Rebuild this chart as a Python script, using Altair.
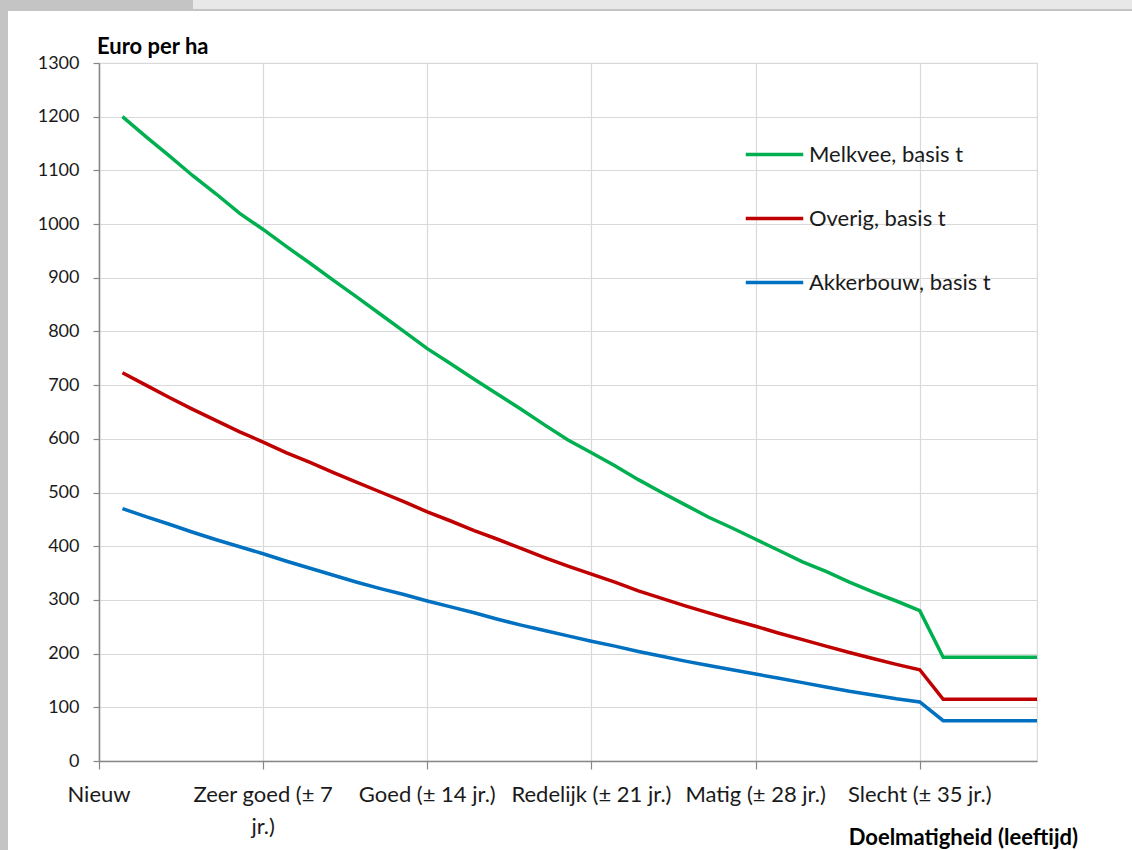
import altair as alt
import pandas as pd

years = list(range(1, 41))
melkvee = [1200, 1163, 1127, 1090, 1056, 1020, 990, 958, 927, 895,
           864, 832, 800, 768, 740, 711, 683, 655, 626, 598,
           574, 550, 524, 500, 477, 454, 434, 413, 392, 371,
           353, 333, 315, 298, 280, 193, 193, 193, 193, 193]
overig = [723, 700, 677, 655, 634, 613, 594, 574, 556, 537,
          519, 501, 483, 464, 447, 429, 413, 396, 379, 363,
          348, 333, 317, 303, 289, 276, 263, 251, 238, 226,
          214, 202, 191, 180, 170, 115, 115, 115, 115, 115]
akkerbouw = [470, 455, 441, 426, 412, 399, 386, 372, 359, 346,
             333, 321, 310, 298, 287, 276, 264, 253, 243, 233,
             223, 214, 204, 195, 186, 178, 170, 162, 154, 146,
             138, 130, 123, 116, 110, 75, 75, 75, 75, 75]
series_names = ["Melkvee, basis t", "Overig, basis t", "Akkerbouw, basis t"]
series_colors = ["#00B050", "#C00000", "#0070C0"]

tick_values = [0, 7, 14, 21, 28, 35]
tick_labels = ["Nieuw", "Zeer goed (± 7\njr.)", "Goed (± 14 jr.)",
               "Redelijk (± 21 jr.)", "Matig (± 28 jr.)", "Slecht (± 35 jr.)"]

FONT = "Lato"
W, H = 938, 698

rows = []
for name, vals in zip(series_names, [melkvee, overig, akkerbouw]):
    for yr, v in zip(years, vals):
        rows.append({"jaar": yr, "waarde": v, "reeks": name})
df = pd.DataFrame(rows)

xscale = alt.Scale(domain=[0, 40], nice=False, zero=False)
yscale = alt.Scale(domain=[0, 1300], nice=False)

lines = alt.Chart(df).mark_line(strokeWidth=3.5).encode(
    x=alt.X("jaar:Q", scale=xscale,
            axis=alt.Axis(values=tick_values, labels=False, title=None,
                          grid=True, gridColor="#d9d9d9", gridWidth=1.2,
                          domainColor="#868686", domainWidth=1.5,
                          tickColor="#868686", tickSize=8, tickWidth=1.2)),
    y=alt.Y("waarde:Q", scale=yscale,
            axis=alt.Axis(values=list(range(0, 1301, 100)), title=None, format="d",
                          grid=True, gridColor="#d9d9d9", gridWidth=1.2,
                          domainColor="#868686", domainWidth=1.5,
                          tickColor="#868686", tickSize=6, tickWidth=1.2,
                          labelFont=FONT, labelFontSize=18, labelColor="#1a1a1a",
                          labelPadding=14)),
    color=alt.Color("reeks:N",
                    scale=alt.Scale(domain=series_names, range=series_colors),
                    legend=alt.Legend(orient="none", legendX=645, legendY=61,
                                      title=None, symbolType="stroke",
                                      symbolSize=3300, symbolStrokeWidth=3.5,
                                      labelFont=FONT, labelFontSize=22,
                                      labelColor="#1a1a1a", rowPadding=22,
                                      labelOffset=4, labelLimit=0)),
)

lab_df = pd.DataFrame({"jaar": tick_values, "label": tick_labels})
xlabels = alt.Chart(lab_df).mark_text(
    font=FONT, fontSize=22, color="#1a1a1a", baseline="middle",
    align="center", lineBreak="\n", lineHeight=32
).encode(x=alt.X("jaar:Q", scale=xscale), y=alt.value(H + 34), text="label:N")

ytitle = alt.Chart(pd.DataFrame({"t": ["Euro per ha"]})).mark_text(
    font=FONT, fontSize=22, fontWeight="bold", color="#000000",
    align="left", baseline="middle"
).encode(x=alt.value(-2), y=alt.value(-16), text="t:N")

xtitle = alt.Chart(pd.DataFrame({"t": ["Doelmatigheid (leeftijd)"]})).mark_text(
    font=FONT, fontSize=22, fontWeight="bold", color="#000000",
    align="right", baseline="middle"
).encode(x=alt.value(979), y=alt.value(77 + H), text="t:N")

frame_left = alt.Chart(pd.DataFrame({"a": [1]})).mark_rect(color="#c4c4c4", clip=False).encode(
    x=alt.value(-99), x2=alt.value(-91), y=alt.value(-63), y2=alt.value(787))
frame_top = alt.Chart(pd.DataFrame({"a": [1]})).mark_rect(color="#c4c4c4", clip=False).encode(
    x=alt.value(-99), x2=alt.value(1033), y=alt.value(-63), y2=alt.value(-52))
frame_box = alt.Chart(pd.DataFrame({"a": [1]})).mark_rect(color="#e8e8e8", clip=False).encode(
    x=alt.value(94), x2=alt.value(1033), y=alt.value(-63), y2=alt.value(-54))

chart = alt.layer(lines, xlabels, ytitle, xtitle, frame_left, frame_top, frame_box).properties(
    width=W, height=H,
    padding={"left": 99, "top": 63, "right": 95, "bottom": 89},
    autosize=alt.AutoSizeParams(type="none"),
    background="white",
).configure_view(stroke="#d9d9d9", strokeWidth=1.2)

chart.save("out.html", embed_options={"renderer": "svg", "actions": False})
